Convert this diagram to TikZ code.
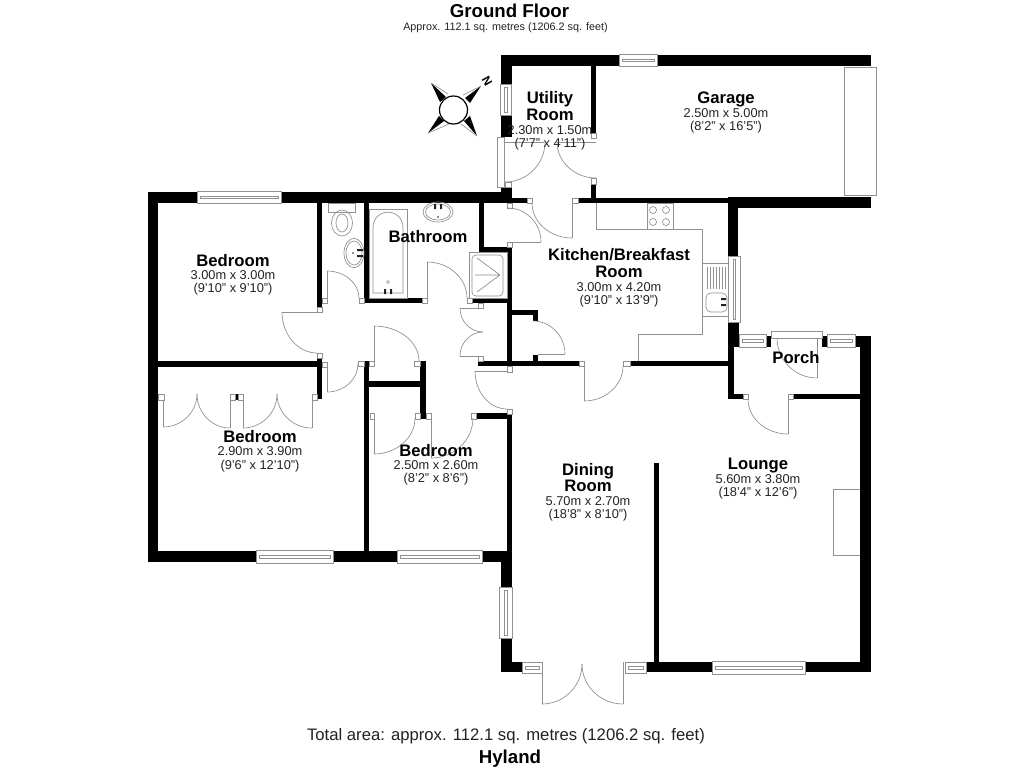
\documentclass[tikz,border=0pt]{standalone}
\usepackage{fontspec}
\setmainfont{Liberation Sans}
\usetikzlibrary{calc}
\definecolor{thingray}{HTML}{909090}
\definecolor{dimtext}{HTML}{222222}
\tikzset{
  fix/.style={draw=thingray,line width=0.5pt},
  roomname/.style={inner sep=0pt,text=black,text height=7.5pt,text depth=0pt,font=\fontsize{12.5}{14}\selectfont\bfseries},
  roomdim/.style={inner sep=0pt,text=dimtext,text height=6.9pt,text depth=0pt,font=\fontsize{9.6}{11}\selectfont},
}
\newcommand{\wl}[4]{\fill[black] (#1,#2) rectangle (#3,#4);}
\newcommand{\jb}[4]{\draw[fix,fill=white] (#1,#2) rectangle (#3,#4);}
\newcommand{\winH}[4]{\draw[fix,fill=white] (#1,#2) rectangle (#3,#4);
  \draw[fix] ({#1+3},{(#2+#4)/2-1}) rectangle ({#3-3},{(#2+#4)/2+1.5});}
\newcommand{\winV}[4]{\draw[fix,fill=white] (#1,#2) rectangle (#3,#4);
  \draw[fix] ({(#1+#3)/2-1},{#2+3}) rectangle ({(#1+#3)/2+1.5},{#4-3});}
% quarter curve from A to B with the corner C
\newcommand{\sw}[6]{\draw[fix] (#1,#2) .. controls ($(#1,#2)!0.55!(#3,#4)$) and ($(#5,#6)!0.55!(#3,#4)$) .. (#5,#6);}
\newcommand{\lnn}[4]{\draw[fix] (#1,#2) -- (#3,#4);}
\begin{document}
\begin{tikzpicture}[x=0.75pt,y=-0.75pt]
\useasboundingbox (0,0) rectangle (1024,768);
\fill[white] (0,0) rectangle (1024,768);
% --- outer and main walls
\wl{501}{55}{871}{66}
\wl{501}{55}{512}{137}
\wl{591}{66}{596}{133}
\wl{591}{184}{596}{200}
\wl{148}{192}{501}{203}
\wl{148}{192}{158}{562}
\wl{501}{187}{512}{203}
\wl{501}{198}{527}{203}
\wl{578}{198}{730}{203}
\wl{728}{197}{871}{208}
\wl{728}{197}{738}{256}
\wl{728}{322}{739}{347}
\wl{728}{347}{734}{399}
\wl{728}{394}{743}{399}
\wl{793}{394}{860}{399}
\wl{855}{336}{871}{347}
\wl{860}{336}{871}{672}
\wl{766}{336}{771}{347}
\wl{822}{336}{827}{347}
\wl{630}{361}{728}{366}
\wl{478}{361}{579}{366}
\wl{148}{551}{512}{562}
\wl{507}{414}{512}{587}
\wl{501}{551}{512}{587}
\wl{501}{638}{512}{672}
\wl{501}{662}{522}{672}
\wl{646}{662}{871}{672}
\wl{654}{463}{659}{672}
% --- inner walls
\wl{158}{361}{322}{367}
\wl{317}{203}{322}{307}
\wl{317}{358}{322}{399}
\wl{364}{203}{369}{303}
\wl{364}{298}{422}{303}
\wl{472}{298}{512}{303}
\wl{479}{203}{484}{252}
\wl{479}{247}{512}{252}
\wl{507}{247}{512}{366}
\wl{512}{310}{538}{315}
\wl{533}{310}{538}{321}
\wl{533}{355}{538}{361}
\wl{364}{361}{369}{552}
\wl{369}{381}{426}{387}
\wl{420}{361}{426}{419}
\wl{476}{413}{512}{419}
\wl{235}{394}{238}{400}
% --- jambs
\jb{591}{133}{596}{138}
\jb{591}{178}{596}{184}
\jb{505}{182}{511}{187}
\jb{527}{198}{532}{203}
\jb{572}{198}{578}{203}
\jb{507}{203}{512}{208}
\jb{507}{242}{512}{247}
\jb{317}{307}{322}{312}
\jb{322}{298}{327}{303}
\jb{359}{298}{364}{303}
\jb{422}{298}{427}{303}
\jb{467}{298}{472}{303}
\jb{478}{303}{483}{308}
\jb{478}{356}{483}{361}
\jb{579}{361}{584}{366}
\jb{623}{361}{630}{366}
\jb{507}{366}{512}{372}
\jb{507}{409}{512}{414}
\jb{317}{353}{322}{358}
\jb{322}{362}{327}{367}
\jb{358}{361}{364}{366}
\jb{369}{361}{374}{366}
\jb{414}{361}{420}{366}
\jb{370}{413}{374}{419}
\jb{415}{413}{420}{419}
\jb{426}{413}{431}{419}
\jb{471}{413}{476}{419}
\jb{158}{394}{164}{400}
\jb{230}{394}{235}{400}
\jb{238}{394}{243}{400}
\jb{312}{394}{317}{400}
\jb{743}{394}{748}{399}
\jb{788}{394}{793}{399}
% --- windows
\winH{619}{54}{657}{66}
\winV{500}{84}{511}{115}
\winH{197}{191}{281}{203}
\winH{256}{550}{333}{563}
\winH{397}{550}{482}{563}
\winV{728}{256}{740}{322}
\winH{739}{334}{766}{347}
\winH{827}{334}{855}{347}
\winV{499}{587}{512}{638}
\winH{522}{662}{542}{673}
\winH{625}{662}{646}{673}
\winH{712}{661}{805}{674}
% --- doors: frames, leaves and swings
\jb{497}{137}{504}{187}
\jb{771}{331}{822}{338}
\lnn{504}{142}{544}{142}
\lnn{557}{142}{596}{142}
\sw{505}{182}{545}{182}{545}{142}
\sw{557}{142}{557}{178}{596}{178}
\lnn{572}{203}{572}{238}
\sw{532}{203}{532}{238}{572}{238}
\lnn{512}{242}{541}{242}
\sw{508}{208}{541}{208}{541}{242}
\lnn{327}{298}{327}{271}
\sw{327}{271}{359}{271}{359}{298}
\lnn{427}{298}{427}{262}
\sw{427}{262}{467}{262}{467}{298}
\lnn{282}{312}{317}{312}
\sw{282}{312}{282}{353}{317}{353}
\lnn{327}{367}{327}{392}
\sw{327}{392}{358}{392}{358}{364}
\lnn{374}{361}{374}{326}
\sw{374}{326}{419}{326}{419}{361}
\lnn{374}{419}{374}{454}
\sw{374}{454}{415}{454}{415}{418}
\lnn{431}{419}{431}{458}
\sw{431}{458}{473}{458}{473}{418}
\lnn{460}{308}{478}{308}
\sw{460}{308}{460}{332}{483}{332}
\lnn{460}{356}{478}{356}
\sw{460}{356}{460}{332}{483}{332}
\lnn{538}{354}{565}{354}
\sw{533}{321}{565}{321}{565}{354}
\lnn{584}{366}{584}{401}
\sw{584}{401}{623}{401}{623}{366}
\lnn{475}{371}{507}{371}
\sw{475}{371}{475}{409}{507}{409}
\lnn{163}{400}{163}{427}
\sw{163}{427}{197}{427}{197}{394}
\lnn{230}{400}{230}{428}
\sw{230}{428}{197}{428}{197}{394}
\lnn{243}{400}{243}{428}
\sw{243}{428}{277}{428}{277}{394}
\lnn{312}{400}{312}{428}
\sw{312}{428}{277}{428}{277}{394}
\lnn{788}{399}{788}{434}
\sw{748}{399}{748}{434}{788}{434}
\lnn{817}{338}{817}{378}
\sw{777}{338}{777}{378}{817}{378}
\lnn{542}{662}{542}{704}
\sw{542}{704}{582}{704}{582}{664}
\lnn{623}{662}{623}{704}
\sw{623}{704}{582}{704}{582}{664}
% --- garage door
\draw[fix,fill=white] (844,67) rectangle (876,195);
% --- fireplace
\draw[fix] (860,489) -- (833,489) -- (833,555) -- (860,555);
% --- kitchen units
\draw[fix] (596,203) -- (596,229) -- (702,229) -- (702,334) -- (638,334) -- (638,361);
\draw[fix] (647,203) rectangle (673,229);
\foreach \cx/\cy in {653/210,666/210,653/222,666/222}{\draw[fix] (\cx,\cy) circle[radius=3.5];}
\draw[fix] (702,263) rectangle (728,316);
\foreach \lx in {707,710,713,716,719,722,725}{\draw[fix] (\lx,267) -- (\lx,289);}
\draw[fix,rounded corners=3.5pt] (706,293) rectangle (727,312);
\fill[dimtext] (721,298) rectangle (726,300) (721,304) rectangle (726,306);
% --- shower
\draw[fix] (469,252) rectangle (507,298);
\draw[fix,rounded corners=3pt] (472,255) rectangle (503,296);
\draw[fix] (500,275) -- (477,258) (500,275) -- (475,275) (500,275) -- (477,292);
% --- bath
\draw[fix] (369,209) rectangle (407,298);
\draw[fix] (373,293) -- (373,228) .. controls (373,207) and (403,207) .. (403,228) -- (403,293) -- cycle;
\draw[fix] (388,282) circle[radius=1.5];
\fill[dimtext] (384,289) rectangle (386,294) (390,289) rectangle (392,294);
% --- basins and WC
\draw[fix] (438,212) ellipse[x radius=15,y radius=10];
\draw[fix] (438,212) ellipse[x radius=12.5,y radius=8];
\fill[dimtext] (434,204) rectangle (436,209) (440,204) rectangle (442,209);
\fill[dimtext] (438,217) circle[radius=.8];
\draw[fix] (328,203) rectangle (355,212);
\draw[fix] (342,223) ellipse[x radius=10.5,y radius=13];
\draw[fix] (342,223) ellipse[x radius=6,y radius=9];
\draw[fix] (354,253) ellipse[x radius=10,y radius=14.7];
\draw[fix] (354,253) ellipse[x radius=8,y radius=12];
\fill[dimtext] (357,249) rectangle (363,251) (357,255) rectangle (363,257);
\fill[dimtext] (353,253) circle[radius=.8];
% --- compass
\foreach \tx/\ty/\ax/\ay/\bx/\by in {431/83/440/102/446/97, 481/86/470/103/465/98, 477/136/470/116/464/121, 428/133/439/116/444/121}{
  \fill[black] (\tx,\ty) -- (\ax,\ay) -- (\bx,\by) -- cycle;
}
\draw[draw=thingray,line width=0.5pt] (431,83) -- (448,94) (481,86) -- (463,95) (477,136) -- (461,124) (428,133) -- (449,124);
\draw[draw=black,fill=white,line width=0.9pt] (453.5,110) circle[radius=14];
\node[inner sep=0pt,font=\fontsize{9}{10}\selectfont\bfseries,rotate=-60] (north) at (487,81) {N};
% --- texts
\node[inner sep=0pt,font=\fontsize{14}{16}\selectfont\bfseries] (title) at (509.5,11) {Ground Floor};
\node[inner sep=0pt,text=dimtext,font=\fontsize{8.1}{9}\selectfont] (approx) at (505.5,28) {Approx. 112.1 sq. metres (1206.2 sq. feet)};
\node[roomname] (u1) at (550,98) {Utility};
\node[roomname] (u2) at (550,115) {Room};
\node[roomdim] (u3) at (550,130) {2.30m x 1.50m};
\node[roomdim] (u4) at (550,143) {(7'7" x 4'11")};
\node[roomname] (g1) at (726,98) {Garage};
\node[roomdim] (g2) at (726,113) {2.50m x 5.00m};
\node[roomdim] (g3) at (726,126) {(8'2" x 16'5")};
\node[roomname] (b1) at (233,261) {Bedroom};
\node[roomdim] (b2) at (233,275) {3.00m x 3.00m};
\node[roomdim] (b3) at (233,288) {(9'10" x 9'10")};
\node[roomname] (bath) at (428,237) {Bathroom};
\node[roomname] (k1) at (619,255) {Kitchen/Breakfast};
\node[roomname] (k2) at (619,272) {Room};
\node[roomdim] (k3) at (619,287) {3.00m x 4.20m};
\node[roomdim] (k4) at (619,300) {(9'10" x 13'9")};
\node[roomname] (p) at (796,358) {Porch};
\node[roomname] (c1) at (260,437) {Bedroom};
\node[roomdim] (c2) at (260,451) {2.90m x 3.90m};
\node[roomdim] (c3) at (260,465) {(9'6" x 12'10")};
\node[roomname] (d1) at (436,451) {Bedroom};
\node[roomdim] (d2) at (436,465) {2.50m x 2.60m};
\node[roomdim] (d3) at (436,478) {(8'2" x 8'6")};
\node[roomname] (e1) at (588,470) {Dining};
\node[roomname] (e2) at (588,486) {Room};
\node[roomdim] (e3) at (588,501) {5.70m x 2.70m};
\node[roomdim] (e4) at (588,514) {(18'8" x 8'10")};
\node[roomname] (l1) at (758,464) {Lounge};
\node[roomdim] (l2) at (758,479) {5.60m x 3.80m};
\node[roomdim] (l3) at (758,492) {(18'4" x 12'6")};
\node[inner sep=0pt,text=dimtext,font=\fontsize{12.5}{14}\selectfont] (total) at (506,736) {Total area: approx. 112.1 sq. metres (1206.2 sq. feet)};
\node[inner sep=0pt,font=\fontsize{14}{16}\selectfont\bfseries] (hyland) at (510,759) {Hyland};
\end{tikzpicture}
\end{document}
